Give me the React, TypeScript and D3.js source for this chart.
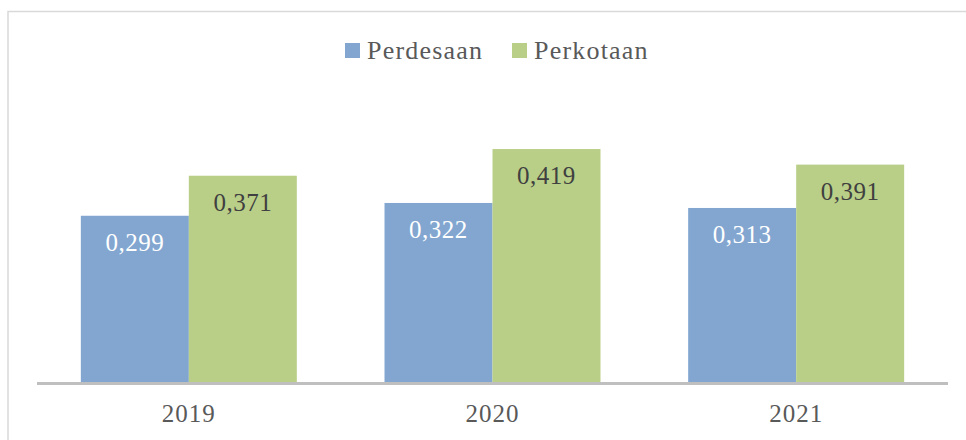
import React, { useRef, useEffect } from 'react';
import * as d3 from 'd3';

const years = ['2019', '2020', '2021'];
const seriesNames = ['Perdesaan', 'Perkotaan'];
const perdesaan = [0.299, 0.322, 0.313];
const perkotaan = [0.371, 0.419, 0.391];
const colors = ['#82a6d0', '#b9cf88'];
const labelColors = ['#ffffff', '#404040'];

const width = 966;
const height = 440;
const font = '"Liberation Serif", serif';

export default function App() {
  const svgRef = useRef<SVGSVGElement>(null);

  useEffect(() => {
    const svg = d3.select(svgRef.current);
    svg.selectAll('*').remove();

    // chart frame
    svg
      .append('rect')
      .attr('x', 8)
      .attr('y', 11.5)
      .attr('width', width)
      .attr('height', height)
      .attr('fill', 'none')
      .attr('stroke', '#d9d9d9')
      .attr('stroke-width', 1.5);

    const x0 = d3.scaleBand().domain(years).range([37, 948]).padding(0);
    const x1 = d3
      .scaleBand()
      .domain(seriesNames)
      .range([0, x0.bandwidth()])
      .paddingInner(0)
      .paddingOuter(0.406);
    const y = d3.scaleLinear().domain([0, 0.5]).range([382, 104]);

    const rows = years.map((yr, i) => ({
      year: yr,
      values: [perdesaan[i], perkotaan[i]],
    }));

    const groups = svg
      .selectAll('.grp')
      .data(rows)
      .join('g')
      .attr('class', 'grp')
      .attr('transform', (d) => `translate(${x0(d.year)},0)`);

    const cells = groups
      .selectAll('.cell')
      .data((d) => d.values.map((v, k) => ({ v, k })))
      .join('g')
      .attr('class', 'cell');

    cells
      .append('rect')
      .attr('x', (d) => x1(seriesNames[d.k])!)
      .attr('y', (d) => y(d.v))
      .attr('width', x1.bandwidth())
      .attr('height', (d) => y(0) - y(d.v))
      .attr('fill', (d) => colors[d.k]);

    cells
      .append('text')
      .attr('x', (d) => x1(seriesNames[d.k])! + x1.bandwidth() / 2)
      .attr('y', (d) => y(d.v) + 35)
      .attr('text-anchor', 'middle')
      .attr('font-family', font)
      .attr('font-size', 25)
      .attr('letter-spacing', 0.5)
      .attr('fill', (d) => labelColors[d.k])
      .text((d) => d3.format('.3f')(d.v).replace('.', ','));

    // baseline
    svg
      .append('line')
      .attr('x1', 37)
      .attr('x2', 948)
      .attr('y1', 383.5)
      .attr('y2', 383.5)
      .attr('stroke', '#bfbfbf')
      .attr('stroke-width', 3);

    // category labels
    svg
      .selectAll('.yr')
      .data(years)
      .join('text')
      .attr('class', 'yr')
      .attr('x', (d) => x0(d)! + x0.bandwidth() / 2)
      .attr('y', 422)
      .attr('text-anchor', 'middle')
      .attr('font-family', font)
      .attr('font-size', 25)
      .attr('letter-spacing', 1)
      .attr('fill', '#595959')
      .text((d) => d);

    // legend
    const legendX = [345, 512];
    const leg = svg
      .selectAll('.leg')
      .data(seriesNames)
      .join('g')
      .attr('class', 'leg')
      .attr('transform', (d, i) => `translate(${legendX[i]},43)`);
    leg
      .append('rect')
      .attr('width', 15)
      .attr('height', 15)
      .attr('fill', (d, i) => colors[i]);
    leg
      .append('text')
      .attr('x', 22)
      .attr('y', 16)
      .attr('font-family', font)
      .attr('font-size', 26)
      .attr('letter-spacing', 1.2)
      .attr('fill', '#595959')
      .text((d) => d);
  }, []);

  return (
    <svg
      ref={svgRef}
      width={width}
      height={height}
      style={{ position: 'absolute', left: 0, top: 0, background: '#fff' }}
    />
  );
}
